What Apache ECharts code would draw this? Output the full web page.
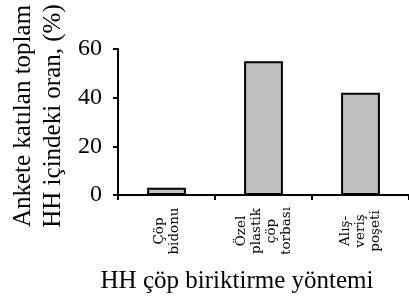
<!DOCTYPE html>
<html>
<head>
<meta charset="utf-8">
<script src="https://cdn.jsdelivr.net/npm/echarts@6/dist/echarts.min.js"></script>
<style>
html,body{margin:0;padding:0;background:#fff;}
#c{width:409px;height:304px;}
</style>
</head>
<body>
<div id="c"></div>
<script>
const categories = ['Çöp\nbidonu', 'Özel\nplastik\nçöp\ntorbası', 'Alış-\nveriş\npoşeti'];
const values = [3, 55, 42];
const yTicks = [0, 20, 40, 60];
const yTitle = 'Ankete katılan toplam\nHH içindeki oran, (%)';
const xTitle = 'HH çöp biriktirme yöntemi';

const FONT = 'Liberation Serif';
const LABEL_FONT = 'DejaVu Serif';
const chart = echarts.init(document.getElementById('c'), null, {renderer: 'canvas'});
chart.setOption({
  animation: false,
  backgroundColor: '#ffffff',
  grid: {left: 118, top: 49, height: 146, width: 300, containLabel: false},
  xAxis: {
    type: 'category',
    data: categories,
    axisLine: {lineStyle: {color: '#000', width: 2}},
    axisTick: {show: true, length: 5, lineStyle: {color: '#000', width: 2}},
    axisLabel: {
      rotate: 90, align: 'center', verticalAlign: 'middle', margin: 36,
      fontFamily: LABEL_FONT, fontSize: 13.5, lineHeight: 15, color: '#000'
    },
    splitLine: {show: false}
  },
  yAxis: {
    type: 'value',
    min: yTicks[0], max: yTicks[yTicks.length - 1], interval: 20,
    axisLine: {show: true, lineStyle: {color: '#000', width: 2}},
    axisTick: {show: true, length: 5, lineStyle: {color: '#000', width: 2}},
    axisLabel: {fontFamily: FONT, fontSize: 24, color: '#000', margin: 16},
    splitLine: {show: false}
  },
  series: [{
    type: 'bar',
    data: values,
    barWidth: '40%',
    itemStyle: {color: '#c0c0c0', borderColor: '#000', borderWidth: 2}
  }],
  graphic: [
    {
      type: 'text', x: 38, y: 116, rotation: Math.PI / 2,
      style: {text: yTitle, fontFamily: FONT, fontSize: 25, lineHeight: 30, fill: '#000',
        align: 'center', verticalAlign: 'middle'}
    },
    {
      type: 'text', x: 237, y: 281,
      style: {text: xTitle, fontFamily: FONT, fontSize: 25, fill: '#000',
        align: 'center', verticalAlign: 'middle'}
    }
  ]
});
</script>
</body>
</html>
